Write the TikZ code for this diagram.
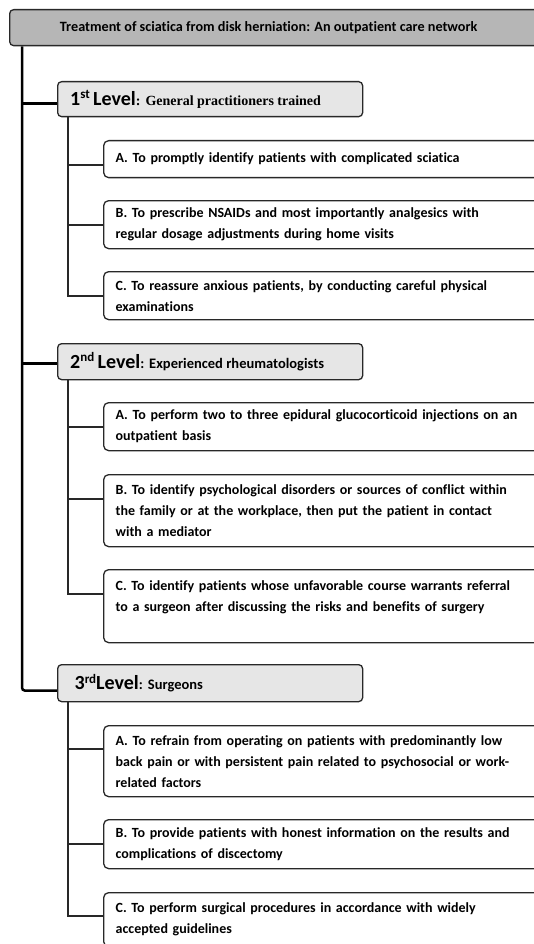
\documentclass[tikz,border=0pt]{standalone}
\usepackage{fontspec}
\setmainfont{Carlito}[Ligatures=NoCommon]
\newfontfamily\serifbf{Liberation Serif}
\usetikzlibrary{backgrounds}
\definecolor{tgray}{RGB}{182,182,182}
\definecolor{lgray}{RGB}{230,230,230}
\definecolor{edge}{RGB}{40,40,40}
\newcommand{\lvsup}[1]{\raisebox{6.5pt}{\fontsize{13}{15}\selectfont #1}}
\begin{document}
\begin{tikzpicture}[x=1pt,y=-1pt,
  titlebox/.style={draw=edge, line width=1.3pt, rounded corners=4pt, fill=tgray,
    minimum height=36pt, minimum width=545pt, anchor=north west, inner sep=0pt,
    font=\bfseries\fontsize{14.2}{17}\selectfont},
  lvlbox/.style={draw=edge, line width=1.3pt, rounded corners=4pt, fill=lgray,
    anchor=north west, text width=283pt, align=left, inner xsep=11pt, inner ysep=0pt,
    font=\bfseries},
  subbox/.style={draw=edge, line width=1.3pt, rounded corners=5pt, fill=white,
    anchor=north west, text width=418pt, inner xsep=12pt, inner ysep=0pt, align=left,
    font=\bfseries\fontsize{14}{21}\selectfont},
  trunkline/.style={draw=black, line width=2.5pt},
  subline/.style={draw=edge, line width=1.8pt},
]
\useasboundingbox (0,0) rectangle (533,944);

% title
\node[titlebox] (title) at (9,9) {\hspace*{-27pt}Treatment of sciatica from disk herniation: An outpatient care network};

% levels
\node[lvlbox, minimum height=35pt] (L1) at (57,81)
  {\hspace*{1.5pt}{\fontsize{20}{24}\selectfont 1\lvsup{st}\,Level}{\serifbf\fontsize{14}{17}\selectfont: General practitioners trained}};
\node[lvlbox, minimum height=36pt] (L2) at (57,343)
  {\hspace*{1.5pt}{\fontsize{20}{24}\selectfont 2\lvsup{nd}\,Level}{\fontsize{14.5}{17}\selectfont: Experienced rheumatologists}};
\node[lvlbox, minimum height=37pt] (L3) at (57,664)
  {\hspace*{6pt}{\fontsize{20}{24}\selectfont 3\lvsup{rd}Level}{\fontsize{14.5}{17}\selectfont: Surgeons}};

% level 1 items
\node[subbox, minimum height=37pt] (A1) at (103,140)
  {A. To promptly identify patients with complicated sciatica};
\node[subbox, minimum height=48pt] (B1) at (103,200)
  {B. To prescribe NSAIDs and most importantly analgesics with\\regular dosage adjustments during home visits};
\node[subbox, minimum height=48pt] (C1) at (103,271)
  {C. To reassure anxious patients, by conducting careful physical\\examinations};

% level 2 items
\node[subbox, minimum height=48pt] (A2) at (103,402)
  {A. To perform two to three epidural glucocorticoid injections on an\\outpatient basis};
\node[subbox, minimum height=72pt] (B2) at (103,474)
  {B. To identify psychological disorders or sources of conflict within\\the family or at the workplace, then put the patient in contact\\with a mediator};
\node[subbox, minimum height=73pt] (C2) at (103,569)
  {C. To identify patients whose unfavorable course warrants referral\\to a surgeon after discussing the risks and benefits of surgery\\\mbox{}};

% level 3 items
\node[subbox, minimum height=71pt] (A3) at (103,725)
  {A. To refrain from operating on patients with predominantly low\\back pain or with persistent pain related to psychosocial or work-\\related factors};
\node[subbox, minimum height=49pt] (B3) at (103,819)
  {B. To provide patients with honest information on the results and\\complications of discectomy};
\node[subbox, minimum height=54pt] (C3) at (103,892)
  {C. To perform surgical procedures in accordance with widely\\accepted guidelines};

% attach points
\coordinate (trunk) at ([xshift=13pt]title.south west);
\coordinate (l1in) at ([yshift=-4.5pt]L1.west);
\coordinate (l2in) at ([yshift=-2pt]L2.west);
\coordinate (l3in) at ([yshift=-7.5pt]L3.west);
\coordinate (s1) at ([xshift=11pt]L1.south west);
\coordinate (s2) at ([xshift=11pt]L2.south west);
\coordinate (s3) at ([xshift=11pt]L3.south west);
\coordinate (a1in) at ([yshift=-5.5pt]A1.west);
\coordinate (b1in) at (B1.west);
\coordinate (c1in) at (C1.west);
\coordinate (a2in) at (A2.west);
\coordinate (b2in) at ([yshift=12pt]B2.west);
\coordinate (c2in) at ([yshift=12.5pt]C2.west);
\coordinate (a3in) at ([yshift=12.5pt]A3.west);
\coordinate (b3in) at (B3.west);
\coordinate (c3in) at ([yshift=4pt]C3.west);

\begin{scope}[on background layer]
  \draw[trunkline, rounded corners=3pt] (trunk) |- (l3in);
  \draw[trunkline] (trunk |- l1in) -- (l1in);
  \draw[trunkline] (trunk |- l2in) -- (l2in);
  \draw[subline] (s1) |- (c1in);
  \draw[subline] (s1 |- a1in) -- (a1in);
  \draw[subline] (s1 |- b1in) -- (b1in);
  \draw[subline] (s2) |- (c2in);
  \draw[subline] (s2 |- a2in) -- (a2in);
  \draw[subline] (s2 |- b2in) -- (b2in);
  \draw[subline] (s3) |- (c3in);
  \draw[subline] (s3 |- a3in) -- (a3in);
  \draw[subline] (s3 |- b3in) -- (b3in);
\end{scope}
\end{tikzpicture}
\end{document}
